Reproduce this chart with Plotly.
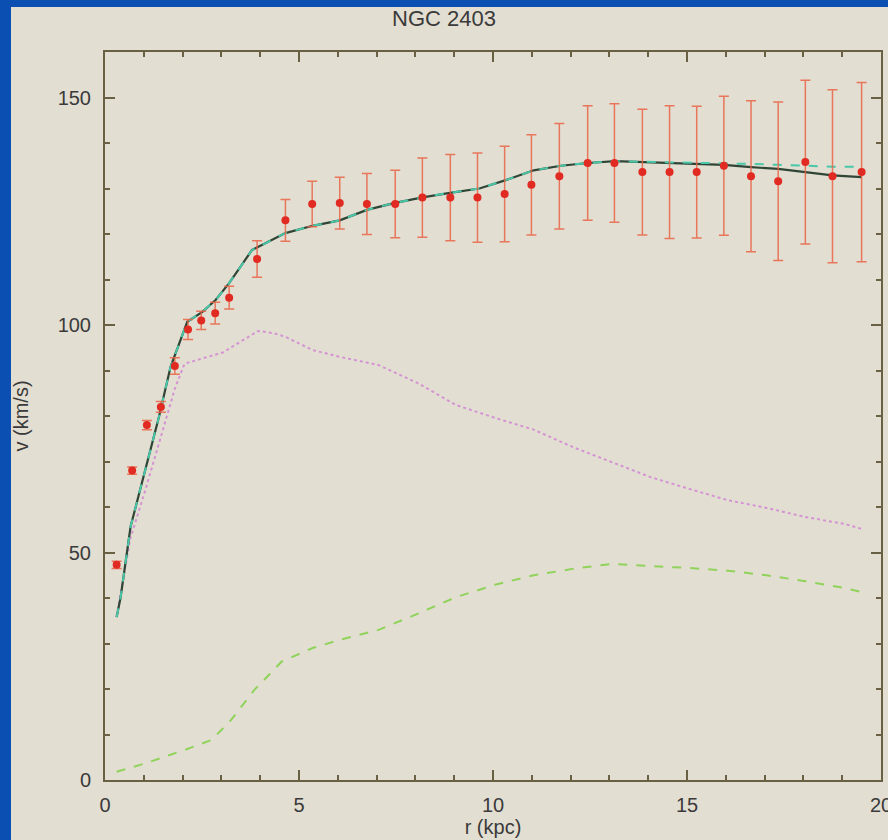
import plotly.graph_objects as go

# Observed rotation curve (red points with error bars)
r_obs = [0.3, 0.7, 1.08, 1.44, 1.8, 2.14, 2.48, 2.84, 3.2, 3.92, 4.65, 5.34, 6.05, 6.75, 7.48,
         8.18, 8.9, 9.6, 10.3, 10.99, 11.71, 12.44, 13.13, 13.85, 14.55, 15.25, 15.95, 16.65,
         17.35, 18.05, 18.75, 19.5]
v_obs = [47.3, 68, 78, 82, 91, 99, 101, 102.6, 106, 114.5, 123, 126.6, 126.8, 126.6, 126.6,
         128, 128, 128, 128.8, 130.8, 132.7, 135.6, 135.6, 133.6, 133.6, 133.6, 135, 132.7,
         131.6, 135.8, 132.7, 133.6]
v_err = [0.8, 0.8, 1.0, 1.2, 1.8, 2.2, 2.0, 2.4, 2.5, 4.0, 4.6, 5.0, 5.7, 6.7, 7.4,
         8.7, 9.5, 9.8, 10.5, 11.0, 11.6, 12.6, 13.0, 13.8, 14.6, 14.5, 15.3, 16.6,
         17.4, 18.0, 19.0, 19.7]

# Total fit (solid dark line)
r_fit = [0.3, 0.4, 0.66, 1.13, 1.39, 1.69, 1.91, 2.12, 2.51, 2.85, 3.2, 3.79, 4.65, 5.35, 6.05,
         6.75, 7.45, 8.15, 8.85, 9.65, 10.35, 11.05, 11.75, 12.45, 13.15, 13.85, 14.55, 15.25,
         15.95, 16.65, 17.35, 18.05, 18.75, 19.5]
v_fit = [35.8, 40, 55.7, 71, 79.8, 90.8, 96, 100.7, 102.9, 105.5, 109.2, 116.5, 120.2, 121.8,
         123, 125.3, 126.8, 128, 129, 130, 131.9, 134, 135, 135.6, 136, 135.8, 135.6, 135.3,
         135.2, 134.7, 134.3, 133.6, 132.9, 132.5]

# Alternative fit (cyan dashed line)
v_fit2 = [35.8, 40, 55.7, 71, 79.8, 90.8, 96, 100.7, 102.9, 105.5, 109.2, 116.5, 120.2, 121.8,
          123, 125.3, 126.8, 128, 129, 130, 131.9, 134, 135, 135.6, 136, 135.9, 135.8, 135.7,
          135.6, 135.4, 135.2, 135.0, 134.8, 134.8]

# Stellar disk (magenta dotted)
r_disk = [0.3, 0.65, 1.05, 1.45, 1.8, 2.05, 3.05, 3.35, 3.95, 4.35, 4.65, 5.35, 6.05, 7.05,
          8.05, 9.05, 10.05, 11.05, 12.05, 13.05, 14.05, 15.05, 16.05, 17.05, 18.05, 19.05, 19.5]
v_disk = [36, 53, 64, 76, 86, 91.5, 94, 95.6, 98.7, 98.2, 97.4, 94.5, 93, 91.2, 87.3, 82.4,
          79.6, 77, 73.2, 69.9, 66.6, 64, 61.5, 59.8, 57.8, 56.3, 55.2]

# Gas (green dashed)
r_gas = [0.3, 1.05, 2.05, 2.75, 3.25, 3.85, 4.55, 5.35, 6.05, 7.05, 8.05, 9.05, 10.05, 11.05,
         12.05, 13.05, 14.05, 15.05, 16.05, 17.05, 18.05, 19.05, 19.5]
v_gas = [1.8, 3.7, 6.6, 8.8, 13.2, 19.8, 26, 29, 30.8, 33, 36.5, 40.2, 42.9, 45, 46.4, 47.5,
         47, 46.6, 46, 45, 43.7, 42.2, 41.3]

x_ticks = [0, 5, 10, 15, 20]
y_ticks = [0, 50, 100, 150]

BEIGE = "#e3ded2"
BLUE = "#0b4fb2"
AXIS = "#6a6145"
TEXT = "#3a3a3a"
FONT = "Liberation Sans, Arial, sans-serif"

fig = go.Figure()

fig.add_trace(go.Scatter(x=r_gas, y=v_gas, mode="lines",
                         line=dict(color="#8fd35a", width=2, dash="dash"), showlegend=False))
fig.add_trace(go.Scatter(x=r_disk, y=v_disk, mode="lines",
                         line=dict(color="#d494d4", width=2, dash="dot"), showlegend=False))
fig.add_trace(go.Scatter(x=r_fit, y=v_fit, mode="lines",
                         line=dict(color="#2f4536", width=2.2), showlegend=False))
fig.add_trace(go.Scatter(x=r_fit, y=v_fit2, mode="lines",
                         line=dict(color="#48c8a8", width=2, dash="dash"), showlegend=False))
fig.add_trace(go.Scatter(x=r_obs, y=v_obs, mode="markers",
                         marker=dict(color="#e02a22", size=8),
                         error_y=dict(type="data", array=v_err, color="rgba(232,100,70,0.85)",
                                      thickness=1.5, width=5),
                         showlegend=False))

axis_common = dict(
    showgrid=False, zeroline=False, showline=True, linecolor=AXIS, linewidth=2,
    mirror="allticks", ticks="inside", ticklen=10, tickwidth=1.5, tickcolor=AXIS,
    tickfont=dict(family=FONT, size=20, color=TEXT), ticklabeloverflow="allow",
    automargin=False,
)

fig.update_xaxes(range=[0, 20], tickvals=x_ticks, ticktext=[str(t) for t in x_ticks],
                 minor=dict(dtick=1, ticks="inside", ticklen=5, tickcolor=AXIS),
                 title=dict(text="r (kpc)", font=dict(family=FONT, size=20, color=TEXT), standoff=4),
                 ticklabelstandoff=6, **axis_common)
fig.update_yaxes(range=[0, 160], tickvals=y_ticks, ticktext=[str(t) for t in y_ticks],
                 minor=dict(dtick=10, ticks="inside", ticklen=5, tickcolor=AXIS),
                 title=dict(text="v (km/s)", font=dict(family=FONT, size=20, color=TEXT), standoff=24),
                 ticklabelstandoff=8, **axis_common)

fig.update_layout(
    width=888, height=840,
    margin=dict(l=105, r=7, t=52, b=60),
    paper_bgcolor=BLUE,
    plot_bgcolor=BEIGE,
    title=dict(text="NGC 2403", x=0.5, xanchor="center", y=1 - 18 / 840, yanchor="middle",
               font=dict(family=FONT, size=22, color=TEXT)),
    shapes=[dict(type="rect", xref="paper", yref="paper", layer="below",
                 x0=-94 / 776, x1=1 + 7 / 776, y0=-60 / 728, y1=1 + 45 / 728,
                 fillcolor=BEIGE, line=dict(width=0))],
)

fig.write_html("out.html", config={"displayModeBar": False},
               post_script="document.body.style.margin='0';document.body.style.background='#0b4fb2';")
